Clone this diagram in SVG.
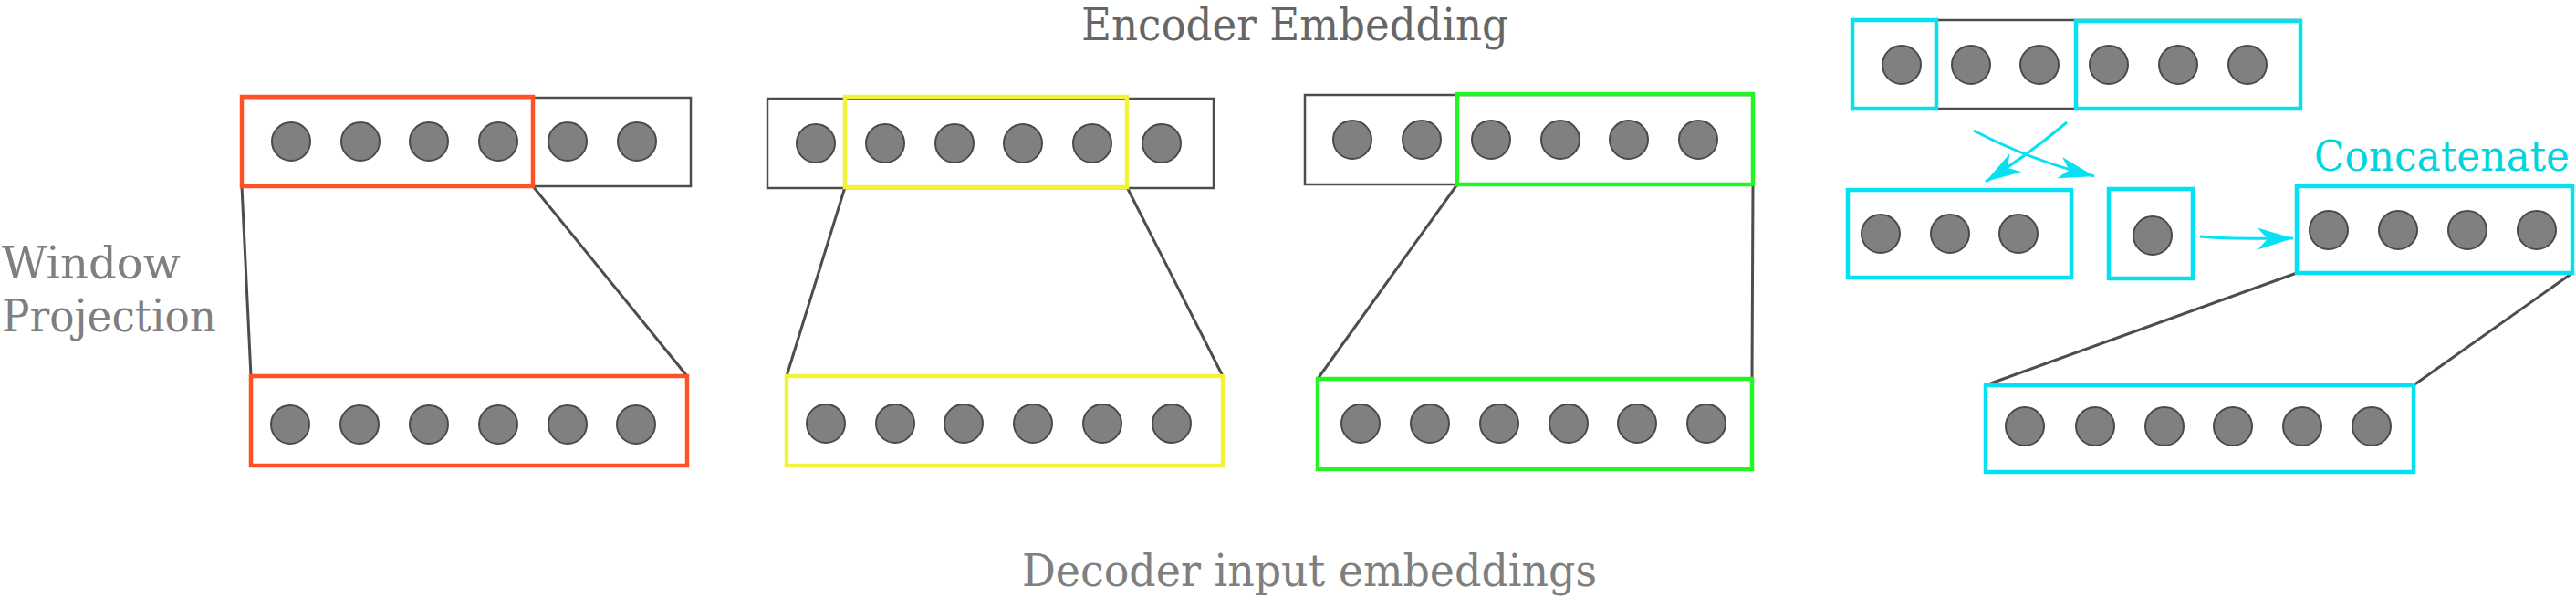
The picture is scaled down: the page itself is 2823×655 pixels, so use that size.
<svg xmlns="http://www.w3.org/2000/svg" width="2823" height="655" viewBox="0 0 2823 655">
<style>
.bg{fill:#ffffff}
.dot{fill:#808080;stroke:#4a4a4a;stroke-width:2}
.gbox{fill:none;stroke:#4d4d4d;stroke-width:2.5}
.red{fill:none;stroke:#ff5127;stroke-width:4.5}
.yel{fill:none;stroke:#f2f23a;stroke-width:4.5}
.grn{fill:none;stroke:#22f522;stroke-width:4.5}
.cyn{fill:none;stroke:#05e1f2;stroke-width:4.5}
.conn{fill:none;stroke:#4d4d4d;stroke-width:3}
.carr{fill:none;stroke:#05e1f2;stroke-width:3}
.lbl{font-family:"DejaVu Serif","Liberation Serif",serif;font-size:48px;fill:#7f7f7f}
.lbl2{font-family:"DejaVu Serif","Liberation Serif",serif;font-size:48px;fill:#666666}
.clbl{font-family:"DejaVu Serif","Liberation Serif",serif;font-size:47px;fill:#00d5de}
</style>
<defs>
<marker id="ah" markerUnits="userSpaceOnUse" viewBox="-42 -15 44 30" markerWidth="44" markerHeight="30" refX="0" refY="0" orient="auto">
<path d="M0,0 L-39,-12 Q-31,-3 -28,0 Q-31,3 -39,12 Z" fill="#05e1f2"/>
</marker>
</defs>
<rect class="bg" x="0" y="0" width="2823" height="655"/>

<g id="labels">
<text class="lbl2" x="1185" y="44" textLength="468" lengthAdjust="spacingAndGlyphs">Encoder Embedding</text>
<text class="lbl" x="2" y="305" textLength="196" lengthAdjust="spacingAndGlyphs">Window</text>
<text class="lbl" x="2" y="363" textLength="235" lengthAdjust="spacingAndGlyphs">Projection</text>
<text class="lbl" x="1120" y="642" textLength="630" lengthAdjust="spacingAndGlyphs">Decoder input embeddings</text>
<text class="clbl" x="2536" y="187" textLength="280" lengthAdjust="spacingAndGlyphs">Concatenate</text>
</g>

<g id="connectors">
<line class="conn" x1="265" y1="204" x2="275" y2="412"/>
<line class="conn" x1="584" y1="204" x2="753" y2="412"/>
<line class="conn" x1="926" y1="205" x2="862" y2="412"/>
<line class="conn" x1="1235" y1="205" x2="1340" y2="412"/>
<line class="conn" x1="1597" y1="202" x2="1444" y2="415"/>
<line class="conn" x1="1921" y1="202" x2="1920" y2="415"/>
<line class="conn" x1="2517" y1="299" x2="2176" y2="422"/>
<line class="conn" x1="2819" y1="299" x2="2645" y2="422"/>
<path class="carr" d="M2265,134 Q2222,170 2176,199" marker-end="url(#ah)"/>
<path class="carr" d="M2163,143 Q2226,176 2295,193" marker-end="url(#ah)"/>
<path class="carr" d="M2411,259 Q2440,262 2513,261" marker-end="url(#ah)"/>
</g>

<g id="enc-window-1">
<rect class="gbox" x="265" y="107" width="492" height="97"/>
<rect class="red" x="265" y="106" width="319" height="98"/>
<circle class="dot" cx="319" cy="155" r="21"/>
<circle class="dot" cx="395" cy="155" r="21"/>
<circle class="dot" cx="470" cy="155" r="21"/>
<circle class="dot" cx="546" cy="155" r="21"/>
<circle class="dot" cx="622" cy="155" r="21"/>
<circle class="dot" cx="698" cy="155" r="21"/>
</g>
<g id="dec-1">
<rect class="red" x="275" y="412" width="478" height="98"/>
<circle class="dot" cx="318" cy="465" r="21"/>
<circle class="dot" cx="394" cy="465" r="21"/>
<circle class="dot" cx="470" cy="465" r="21"/>
<circle class="dot" cx="546" cy="465" r="21"/>
<circle class="dot" cx="622" cy="465" r="21"/>
<circle class="dot" cx="697" cy="465" r="21"/>
</g>

<g id="enc-window-2">
<rect class="gbox" x="841" y="108" width="489" height="98"/>
<rect class="yel" x="926" y="106" width="309" height="99"/>
<circle class="dot" cx="894" cy="157" r="21"/>
<circle class="dot" cx="970" cy="157" r="21"/>
<circle class="dot" cx="1046" cy="157" r="21"/>
<circle class="dot" cx="1121" cy="157" r="21"/>
<circle class="dot" cx="1197" cy="157" r="21"/>
<circle class="dot" cx="1273" cy="157" r="21"/>
</g>
<g id="dec-2">
<rect class="yel" x="862" y="412" width="478" height="98"/>
<circle class="dot" cx="905" cy="464" r="21"/>
<circle class="dot" cx="981" cy="464" r="21"/>
<circle class="dot" cx="1056" cy="464" r="21"/>
<circle class="dot" cx="1132" cy="464" r="21"/>
<circle class="dot" cx="1208" cy="464" r="21"/>
<circle class="dot" cx="1284" cy="464" r="21"/>
</g>

<g id="enc-window-3">
<rect class="gbox" x="1430" y="104" width="491" height="98"/>
<rect class="grn" x="1597" y="103" width="324" height="99"/>
<circle class="dot" cx="1482" cy="153" r="21"/>
<circle class="dot" cx="1558" cy="153" r="21"/>
<circle class="dot" cx="1634" cy="153" r="21"/>
<circle class="dot" cx="1710" cy="153" r="21"/>
<circle class="dot" cx="1785" cy="153" r="21"/>
<circle class="dot" cx="1861" cy="153" r="21"/>
</g>
<g id="dec-3">
<rect class="grn" x="1444" y="415" width="476" height="99"/>
<circle class="dot" cx="1491" cy="464" r="21"/>
<circle class="dot" cx="1567" cy="464" r="21"/>
<circle class="dot" cx="1643" cy="464" r="21"/>
<circle class="dot" cx="1719" cy="464" r="21"/>
<circle class="dot" cx="1794" cy="464" r="21"/>
<circle class="dot" cx="1870" cy="464" r="21"/>
</g>

<g id="enc-wrap">
<rect class="gbox" x="2030" y="22" width="491" height="97"/>
<rect class="cyn" x="2030" y="22" width="92" height="97"/>
<rect class="cyn" x="2275" y="23" width="246" height="96"/>
<circle class="dot" cx="2084" cy="71" r="21"/>
<circle class="dot" cx="2160" cy="71" r="21"/>
<circle class="dot" cx="2235" cy="71" r="21"/>
<circle class="dot" cx="2311" cy="71" r="21"/>
<circle class="dot" cx="2387" cy="71" r="21"/>
<circle class="dot" cx="2463" cy="71" r="21"/>
</g>
<g id="tail-part">
<rect class="cyn" x="2025" y="208" width="245" height="96"/>
<circle class="dot" cx="2061" cy="256" r="21"/>
<circle class="dot" cx="2137" cy="256" r="21"/>
<circle class="dot" cx="2212" cy="256" r="21"/>
</g>
<g id="head-part">
<rect class="cyn" x="2311" y="207" width="92" height="98"/>
<circle class="dot" cx="2359" cy="258" r="21"/>
</g>
<g id="concat">
<rect class="cyn" x="2517" y="204" width="302" height="95"/>
<circle class="dot" cx="2552" cy="252" r="21"/>
<circle class="dot" cx="2628" cy="252" r="21"/>
<circle class="dot" cx="2704" cy="252" r="21"/>
<circle class="dot" cx="2780" cy="252" r="21"/>
</g>
<g id="dec-4">
<rect class="cyn" x="2176" y="422" width="469" height="95"/>
<circle class="dot" cx="2219" cy="467" r="21"/>
<circle class="dot" cx="2296" cy="467" r="21"/>
<circle class="dot" cx="2372" cy="467" r="21"/>
<circle class="dot" cx="2447" cy="467" r="21"/>
<circle class="dot" cx="2523" cy="467" r="21"/>
<circle class="dot" cx="2599" cy="467" r="21"/>
</g>
</svg>
